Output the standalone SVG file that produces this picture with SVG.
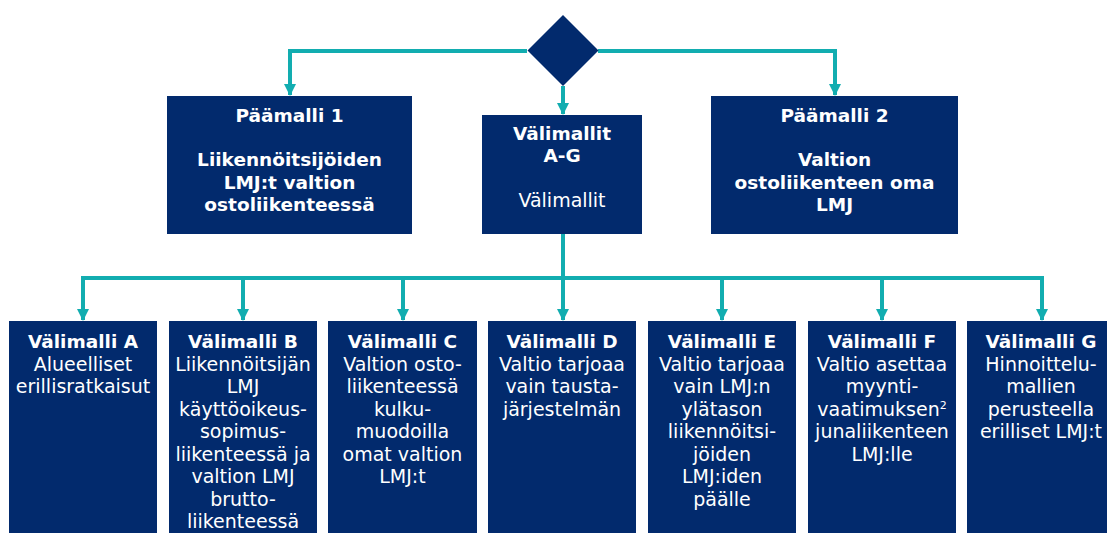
<svg xmlns="http://www.w3.org/2000/svg" width="1107" height="533" viewBox="0 0 1107 533">
<defs>
<style>
.box{fill:#022a6d;}
.t{font-family:"DejaVu Sans",Verdana,sans-serif;font-size:19px;fill:#ffffff;text-anchor:middle;}
.b{font-weight:bold;font-size:18.5px;}
.c{fill:none;stroke:#12adb0;stroke-width:4;}
</style>
<marker id="ah" viewBox="0 0 12 12" refX="11" refY="6" markerWidth="12" markerHeight="12" markerUnits="userSpaceOnUse" orient="auto">
<path d="M0,0 L12,6 L0,12 Z" fill="#12adb0"/>
</marker>
</defs>
<rect width="1107" height="533" fill="#ffffff"/>
<g id="connectors">
<path class="c" d="M527,51 H290 V95" marker-end="url(#ah)"/>
<path class="c" d="M598,51 H835 V95" marker-end="url(#ah)"/>
<path class="c" d="M563,86 V114" marker-end="url(#ah)"/>
<path class="c" d="M563,234 V278"/>
<path class="c" d="M81,278 H1044"/>
<path class="c" d="M83,278 V320" marker-end="url(#ah)"/>
<path class="c" d="M243,278 V320" marker-end="url(#ah)"/>
<path class="c" d="M403,278 V320" marker-end="url(#ah)"/>
<path class="c" d="M563,278 V320" marker-end="url(#ah)"/>
<path class="c" d="M722,278 V320" marker-end="url(#ah)"/>
<path class="c" d="M882,278 V320" marker-end="url(#ah)"/>
<path class="c" d="M1042,278 V320" marker-end="url(#ah)"/>
</g>
<g id="decision">
<polygon class="box" points="563,15 598.5,50.5 563,86 527.5,50.5"/>
</g>
<g id="paamalli1">
<rect class="box" x="167" y="96" width="245" height="138"/>
<text class="t b" x="289.5" y="122">Päämalli 1</text>
<text class="t b" x="289.5" y="166">Liikennöitsijöiden</text>
<text class="t b" x="289.5" y="188.5">LMJ:t valtion</text>
<text class="t b" x="289.5" y="211">ostoliikenteessä</text>
</g>
<g id="valimallit">
<rect class="box" x="482" y="115" width="160" height="119"/>
<text class="t b" x="562" y="139.5">Välimallit</text>
<text class="t b" x="562" y="162">A-G</text>
<text class="t" x="562" y="207">Välimallit</text>
</g>
<g id="paamalli2">
<rect class="box" x="711" y="96" width="247" height="138"/>
<text class="t b" x="834.5" y="122">Päämalli 2</text>
<text class="t b" x="834.5" y="166">Valtion</text>
<text class="t b" x="834.5" y="188.5">ostoliikenteen oma</text>
<text class="t b" x="834.5" y="211">LMJ</text>
</g>
<g id="valimalliA">
<rect class="box" x="9" y="321" width="148" height="220"/>
<text class="t b" x="83" y="348">Välimalli A</text>
<text class="t" x="83" y="370.5">Alueelliset</text>
<text class="t" x="83" y="393">erillisratkaisut</text>
</g>
<g id="valimalliB">
<rect class="box" x="169" y="321" width="148" height="220"/>
<text class="t b" x="243" y="348">Välimalli B</text>
<text class="t" x="243" y="370.5">Liikennöitsijän</text>
<text class="t" x="243" y="393">LMJ</text>
<text class="t" x="243" y="415.5">käyttöoikeus-</text>
<text class="t" x="243" y="438">sopimus-</text>
<text class="t" x="243" y="460.5">liikenteessä ja</text>
<text class="t" x="243" y="483">valtion LMJ</text>
<text class="t" x="243" y="505.5">brutto-</text>
<text class="t" x="243" y="528">liikenteessä</text>
</g>
<g id="valimalliC">
<rect class="box" x="328" y="321" width="149" height="220"/>
<text class="t b" x="402.5" y="348">Välimalli C</text>
<text class="t" x="402.5" y="370.5">Valtion osto-</text>
<text class="t" x="402.5" y="393">liikenteessä</text>
<text class="t" x="402.5" y="415.5">kulku-</text>
<text class="t" x="402.5" y="438">muodoilla</text>
<text class="t" x="402.5" y="460.5">omat valtion</text>
<text class="t" x="402.5" y="483">LMJ:t</text>
</g>
<g id="valimalliD">
<rect class="box" x="488" y="321" width="148" height="220"/>
<text class="t b" x="562" y="348">Välimalli D</text>
<text class="t" x="562" y="370.5">Valtio tarjoaa</text>
<text class="t" x="562" y="393">vain tausta-</text>
<text class="t" x="562" y="415.5">järjestelmän</text>
</g>
<g id="valimalliE">
<rect class="box" x="648" y="321" width="148" height="220"/>
<text class="t b" x="722" y="348">Välimalli E</text>
<text class="t" x="722" y="370.5">Valtio tarjoaa</text>
<text class="t" x="722" y="393">vain LMJ:n</text>
<text class="t" x="722" y="415.5">ylätason</text>
<text class="t" x="722" y="438">liikennöitsi-</text>
<text class="t" x="722" y="460.5">jöiden</text>
<text class="t" x="722" y="483">LMJ:iden</text>
<text class="t" x="722" y="505.5">päälle</text>
</g>
<g id="valimalliF">
<rect class="box" x="808" y="321" width="148" height="220"/>
<text class="t b" x="882" y="348">Välimalli F</text>
<text class="t" x="882" y="370.5">Valtio asettaa</text>
<text class="t" x="882" y="393">myynti-</text>
<text class="t" x="882" y="415.5">vaatimuksen<tspan font-size="11" dy="-7">2</tspan></text>
<text class="t" x="882" y="438">junaliikenteen</text>
<text class="t" x="882" y="460.5">LMJ:lle</text>
</g>
<g id="valimalliG">
<rect class="box" x="967" y="321" width="148" height="220"/>
<text class="t b" x="1041" y="348">Välimalli G</text>
<text class="t" x="1041" y="370.5">Hinnoittelu-</text>
<text class="t" x="1041" y="393">mallien</text>
<text class="t" x="1041" y="415.5">perusteella</text>
<text class="t" x="1041" y="438">erilliset LMJ:t</text>
</g>
</svg>
